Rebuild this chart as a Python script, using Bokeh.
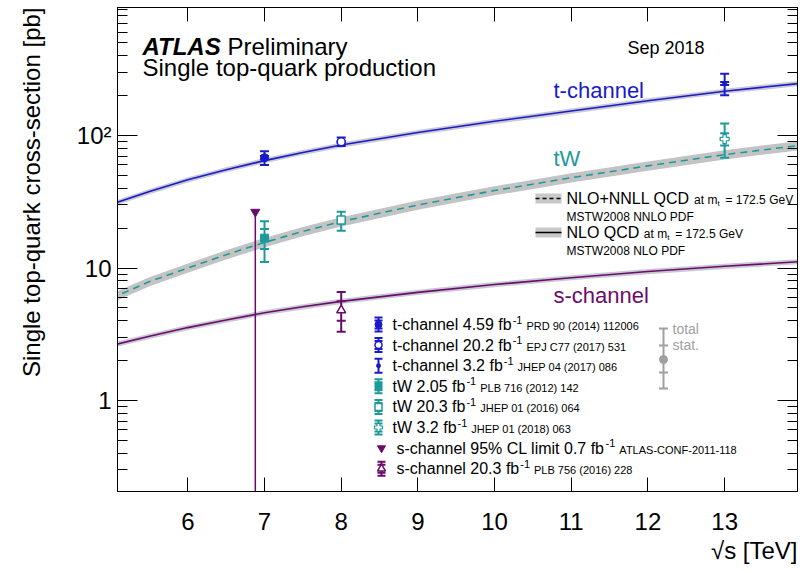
import math
from bokeh.plotting import figure
from bokeh.models import Label, FixedTicker, LinearAxis, LogAxis, CustomJSTickFormatter, Title
from bokeh.embed import file_html
from bokeh.resources import INLINE

# ---------------- data ----------------
# theory predictions (pb) vs sqrt(s) (TeV)
sqrt_s = [5.0, 5.5, 6.0, 6.5, 7.0, 7.5, 8.0, 9.0, 10.0, 11.0, 12.0, 13.0, 14.0]
t_chan_theory = [30.2, 37.8, 46.3, 55.2, 64.6, 74.5, 84.7, 105.5, 128.0, 153.0, 183.0, 216.0, 248.0]
tw_theory = [5.9, 7.9, 10.0, 12.6, 15.6, 18.9, 22.4, 29.9, 38.4, 48.0, 59.0, 71.7, 84.5]
s_chan_theory = [2.6, 3.05, 3.55, 4.05, 4.6, 5.1, 5.6, 6.55, 7.5, 8.45, 9.4, 10.3, 11.2]
t_band_rel = 0.045
tw_band_rel = 0.08
s_band_rel = 0.045

# measurements
t_x = [7.0, 8.0, 13.0]
t_val = [68.0, 89.6, 247.0]
t_tot_up = [8.0, 7.1, 46.0]
t_tot_dn = [8.0, 6.3, 46.0]
t_stat = [2.0, 1.2, 6.0]

tw_x = [7.0, 8.0, 13.0]
tw_val = [16.8, 23.0, 94.0]
tw_tot_up = [5.7, 3.6, 29.0]
tw_tot_dn = [5.7, 3.9, 26.0]
tw_stat = [2.9, 1.3, 10.0]

s_x = [8.0]
s_val = [4.8]
s_tot_up = [1.8]
s_tot_dn = [1.5]
s_stat = [0.8]

s_limit_x = [6.88]
s_limit_val = [26.5]

x_ticks = [5, 6, 7, 8, 9, 10, 11, 12, 13, 14]
y_major = [0.1, 1, 10, 100, 1000]
y_minor = [0.2, 0.3, 0.4, 0.5, 0.6, 0.7, 0.8, 0.9,
           2, 3, 4, 5, 6, 7, 8, 9,
           20, 30, 40, 50, 60, 70, 80, 90,
           200, 300, 400, 500, 600, 700, 800, 900]

legend_main = ["t-channel 4.59 fb", "t-channel 20.2 fb", "t-channel 3.2 fb",
               "tW 2.05 fb", "tW 20.3 fb", "tW 3.2 fb",
               "s-channel 95% CL limit 0.7 fb", "s-channel 20.3 fb"]
legend_ref = ["PRD 90 (2014) 112006", "EPJ C77 (2017) 531", "JHEP 04 (2017) 086",
              "PLB 716 (2012) 142", "JHEP 01 (2016) 064", "JHEP 01 (2018) 063",
              "ATLAS-CONF-2011-118", "PLB 756 (2016) 228"]

BLUE = "#1a1ac8"
TEAL = "#1f9a9a"
PURPLE = "#6a0d6a"
BAND_NLO = "#c9c9d4"
BAND_TW = "#c3c3c3"
FONT = "Liberation Sans"

# ---------------- geometry (page pixels of the frame) ----------------
FL, FR, FT, FB = 117, 797, 7, 491
X0, X1 = 5.083, 13.95
LY0, LY1 = -(FB - 400) / 132.5, (400 - FT) / 132.5
Y0, Y1 = 10 ** LY0, 10 ** LY1


def dx(px):
    return X0 + (px - FL) * (X1 - X0) / (FR - FL)


def dy(py):
    return 10 ** (LY1 - (py - FT) * (LY1 - LY0) / (FB - FT))


AW = {' ': 278, '!': 278, '%': 889, '(': 333, ')': 333, '+': 584, ',': 278, '-': 333, '.': 278,
      '=': 584, '[': 278, ']': 278, ':': 278, '\u221a': 549,
      'A': 667, 'B': 667, 'C': 722, 'D': 722, 'E': 667, 'F': 611, 'G': 778, 'H': 722, 'I': 278,
      'J': 500, 'K': 667, 'L': 556, 'M': 833, 'N': 722, 'O': 778, 'P': 667, 'Q': 778, 'R': 722,
      'S': 667, 'T': 611, 'U': 722, 'V': 667, 'W': 944, 'X': 667, 'Y': 667, 'Z': 611,
      'a': 556, 'b': 556, 'c': 500, 'd': 556, 'e': 556, 'f': 278, 'g': 556, 'h': 556, 'i': 222,
      'j': 222, 'k': 500, 'l': 222, 'm': 833, 'n': 556, 'o': 556, 'p': 556, 'q': 556, 'r': 333,
      's': 500, 't': 278, 'u': 556, 'v': 500, 'w': 722, 'x': 500, 'y': 500, 'z': 500}
ABOLD = {'A': 722, 'T': 611, 'L': 611, 'S': 667}


def tw_(text, size, bold=False):
    tot = 0
    for ch in text:
        if bold and ch in ABOLD:
            tot += ABOLD[ch]
        else:
            tot += AW.get(ch, 556)
    return tot * size / 1000.0


p = figure(frame_width=FR - FL, frame_height=FB - FT, y_axis_type="log",
           x_range=(X0, X1), y_range=(Y0, Y1),
           output_backend="svg", toolbar_location=None,
           min_border_left=FL, min_border_right=809 - FR, min_border_top=FT,
           min_border_bottom=80)
p.xgrid.visible = False
p.ygrid.visible = False
p.outline_line_color = "black"
p.outline_line_width = 1
p.background_fill_color = "white"
p.border_fill_color = "white"


def put(text, xp, yc, size, color="black", style="normal", align="left"):
    """Place a text whose visual middle is at page pixel row yc."""
    p.add_layout(Label(x=dx(xp), y=dy(yc), text=text, text_font=FONT,
                       text_font_size=f"{size}px", text_color=color,
                       text_font_style=style, text_align=align,
                       text_baseline="middle"))


# axes styling
xt = FixedTicker(ticks=x_ticks)
yt = FixedTicker(ticks=y_major, minor_ticks=y_minor)
ax = p.xaxis[0]
ax.ticker = xt
ax.major_tick_in = 14
ax.major_tick_out = 0
ax.minor_tick_line_color = None
ax.major_label_text_font = FONT
ax.major_label_text_font_size = "24px"
ax.major_label_text_color = "black"
ax.major_label_standoff = 21
ax.axis_line_color = "black"
ax.major_tick_line_color = "black"

ay = p.yaxis[0]
ay.ticker = yt
ay.formatter = CustomJSTickFormatter(code="""
    const e = Math.round(Math.log10(tick));
    if (e >= 2) { return '10\u00b2'; }
    return String(Math.round(tick * 10) / 10);
""")
ay.major_tick_in = 20
ay.major_tick_out = 0
ay.minor_tick_in = 10
ay.minor_tick_out = 0
ay.major_label_text_font = FONT
ay.major_label_text_font_size = "24px"
ay.major_label_text_color = "black"
ay.major_label_standoff = 6
ay.axis_line_color = "black"
ay.major_tick_line_color = "black"
ay.minor_tick_line_color = "black"

top = LinearAxis(ticker=xt, major_tick_in=14, major_tick_out=0,
                 minor_tick_line_color=None, major_label_text_font_size="1px",
                 major_label_text_color=None, major_label_standoff=0,
                 axis_line_color="black")
p.add_layout(top, "above")
right = LogAxis(ticker=yt, major_tick_in=20, major_tick_out=0, minor_tick_in=10,
                minor_tick_out=0, major_label_text_font_size="1px",
                major_label_text_color=None, major_label_standoff=0,
                axis_line_color="black")
p.add_layout(right, "right")

# axis titles (ROOT style: aligned to the axis end); the empty second line
# pushes the vertical title to the outer edge of its panel
p.add_layout(Title(text="Single top-quark cross-section [pb]\n ", align="right",
                   vertical_align="top",
                   text_font=FONT, text_font_size="24px", text_font_style="normal",
                   text_color="black", standoff=0), "left")
p.add_layout(Title(text="\u221as [TeV]", align="right",
                   text_font=FONT, text_font_size="24px", text_font_style="normal",
                   text_color="black", standoff=4), "below")

# ---------------- theory bands and curves ----------------
for vals, rel, col, bandcol, dash in [
        (t_chan_theory, t_band_rel, BLUE, BAND_NLO, "solid"),
        (s_chan_theory, s_band_rel, PURPLE, BAND_NLO, "solid"),
        (tw_theory, tw_band_rel, TEAL, BAND_TW, "7 5")]:
    lo = [v * (1 - rel) for v in vals]
    hi = [v * (1 + rel) for v in vals]
    p.varea(x=sqrt_s, y1=lo, y2=hi, fill_color=bandcol)
    p.line(sqrt_s, vals, line_color=col, line_width=1.6, line_dash=dash)


# ---------------- measurements ----------------
def errbar(x, v, up, dn, st, color, cap=9):
    p.segment(x0=[x], y0=[v - dn], x1=[x], y1=[v + up], line_color=color, line_width=2)
    p.scatter(x=[x, x], y=[v + up, v - dn], marker="dash", size=cap,
              line_color=color, line_width=2)
    if st is not None:
        p.scatter(x=[x, x], y=[v + st, v - st], marker="dash", size=cap,
                  line_color=color, line_width=2)


def marker(x, v, kind, color, size=8):
    if kind == "filled_circle":
        p.scatter([x], [v], marker="circle", size=size, fill_color=color, line_color=color)
    elif kind == "open_circle":
        p.scatter([x], [v], marker="circle", size=size, fill_color="white",
                  line_color=color, line_width=1.5)
    elif kind == "small":
        p.scatter([x], [v], marker="circle", size=4, fill_color=color, line_color=color)
    elif kind == "filled_square":
        p.scatter([x], [v], marker="square", size=size, fill_color=color, line_color=color)
    elif kind == "open_square":
        p.scatter([x], [v], marker="square", size=size, fill_color="white",
                  line_color=color, line_width=1.5)
    elif kind == "open_plus":
        p.scatter([x], [v], marker="plus", size=size + 1, fill_color="white",
                  line_color=color, line_width=1.2)
    elif kind == "open_triangle":
        p.scatter([x], [v], marker="triangle", size=size + 1, fill_color="white",
                  line_color=color, line_width=1.5)
    elif kind == "down_triangle":
        p.scatter([x], [v], marker="inverted_triangle", size=size + 1,
                  fill_color=color, line_color=color)


t_kinds = ["filled_circle", "open_circle", "small"]
tw_kinds = ["filled_square", "open_square", "open_plus"]

# s-channel limit
p.segment(x0=s_limit_x, y0=[Y0 * 0.5], x1=s_limit_x, y1=s_limit_val,
          line_color=PURPLE, line_width=1.5)
marker(s_limit_x[0], s_limit_val[0], "down_triangle", PURPLE)

for i in range(len(t_x)):
    errbar(t_x[i], t_val[i], t_tot_up[i], t_tot_dn[i], t_stat[i], BLUE)
    marker(t_x[i], t_val[i], t_kinds[i], BLUE)
for i in range(len(tw_x)):
    errbar(tw_x[i], tw_val[i], tw_tot_up[i], tw_tot_dn[i], tw_stat[i], TEAL)
    marker(tw_x[i], tw_val[i], tw_kinds[i], TEAL)
for i in range(len(s_x)):
    errbar(s_x[i], s_val[i], s_tot_up[i], s_tot_dn[i], s_stat[i], PURPLE)
    marker(s_x[i], s_val[i], "open_triangle", PURPLE)

# ---------------- texts ----------------
put("ATLAS", 142, 46, 24, style="bold italic")
put("Preliminary", 142 + tw_("ATLAS", 24, bold=True) + 5, 46, 24)
put("Single top-quark production", 142, 67, 24)
put("Sep 2018", 627, 47, 18)

put("t-channel", 553, 90, 22, color=BLUE)
put("tW", 553, 158, 22, color=TEAL)
put("s-channel", 553, 295, 22, color=PURPLE)

# ---------------- theory legend ----------------
leg_x0, leg_x1, leg_tx = 535, 561, 566
for (yc, dash, big, sub) in [(198, "4 3", "NLO+NNLL QCD", "MSTW2008 NNLO PDF"),
                             (232, "solid", "NLO QCD", "MSTW2008 NLO PDF")]:
    p.quad(left=[dx(leg_x0)], right=[dx(leg_x1)], bottom=[dy(yc + 5)], top=[dy(yc - 5)],
           fill_color="#c8c8c8", line_color=None)
    p.segment(x0=[dx(leg_x0)], y0=[dy(yc)], x1=[dx(leg_x1)], y1=[dy(yc)],
              line_color="black", line_width=1.5, line_dash=dash)
    put(big, leg_tx, yc, 16)
    xa = leg_tx + tw_(big + " ", 16)
    put("at m", xa, yc + 1.5, 12)
    xs = xa + tw_("at m", 12)
    put("t", xs, yc + 4.5, 8)
    put("= 172.5 GeV", xs + 8, yc + 1.5, 12)
    put(sub, leg_tx, yc + 18, 12)

# ---------------- data legend ----------------
row_y = [324 + 20.6 * k for k in range(8)]
leg_cols = [BLUE, BLUE, BLUE, TEAL, TEAL, TEAL, PURPLE, PURPLE]
leg_kinds = t_kinds + tw_kinds + ["down_triangle", "open_triangle"]
for k in range(8):
    yc = row_y[k]
    col = leg_cols[k]
    if k < 6:
        mx, tx = 378, 392
    else:
        mx, tx = 381, 396
    if leg_kinds[k] != "down_triangle":
        x = dx(mx)
        p.segment(x0=[x], y0=[dy(yc + 7)], x1=[x], y1=[dy(yc - 7)], line_color=col, line_width=2)
        p.scatter(x=[x, x], y=[dy(yc + 7), dy(yc - 7)], marker="dash", size=8,
                  line_color=col, line_width=2)
        if leg_kinds[k] != "small":
            p.scatter(x=[x, x], y=[dy(yc + 4), dy(yc - 4)], marker="dash", size=8,
                      line_color=col, line_width=2)
    marker(dx(mx), dy(yc), leg_kinds[k], col, size=7)
    put(legend_main[k], tx, yc, 16)
    xsup = tx + tw_(legend_main[k], 16) + 1
    put("-1", xsup, yc - 5, 11)
    put(legend_ref[k], xsup + tw_("-1", 11) + 4, yc + 1.5, 11)

# total / stat. key
GRAY = "#a0a0a0"
gx = dx(663)
p.segment(x0=[gx], y0=[dy(388)], x1=[gx], y1=[dy(328)], line_color=GRAY, line_width=2)
p.scatter(x=[gx] * 4, y=[dy(328), dy(388), dy(345), dy(372)], marker="dash", size=9,
          line_color=GRAY, line_width=2)
p.scatter([gx], [dy(359)], marker="circle", size=8, fill_color=GRAY, line_color=GRAY)
put("total", 672, 328, 14, color=GRAY)
put("stat.", 672, 344, 14, color=GRAY)

open("out.html", "w").write(file_html(p, INLINE))
